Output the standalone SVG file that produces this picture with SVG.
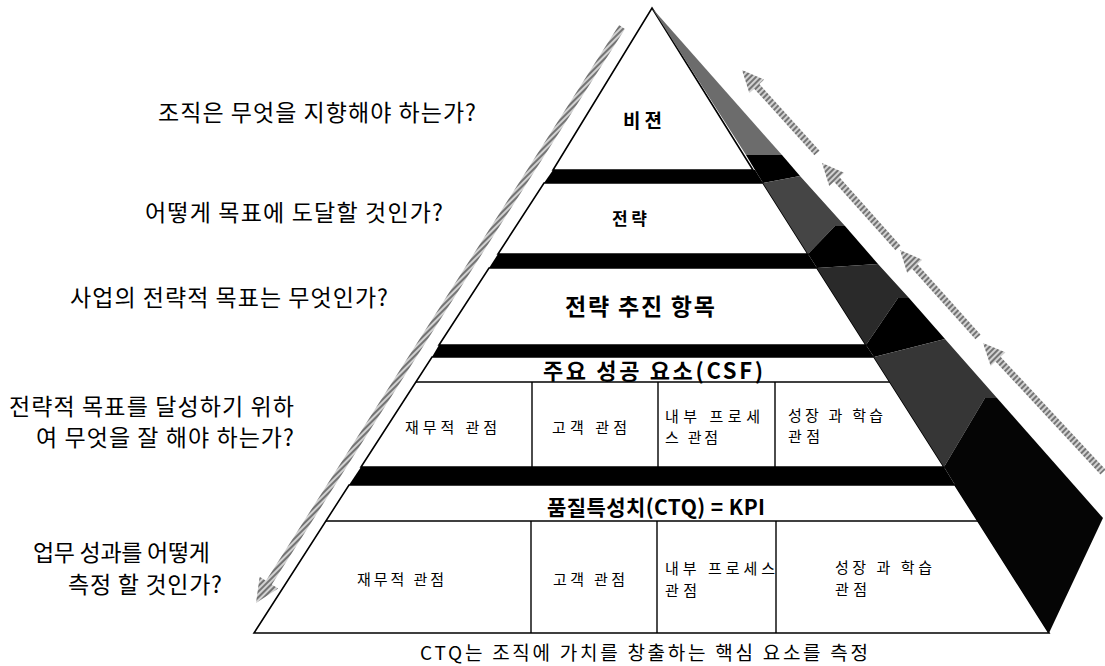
<svg xmlns="http://www.w3.org/2000/svg" width="1105" height="666" viewBox="0 0 1105 666">
<defs>
<style>
text{font-family:"Noto Sans CJK KR","Noto Sans",sans-serif;fill:#000}
.q{font-size:23px}
.c{font-size:15px}
.t{font-weight:bold}
.tier{fill:#fff;stroke:#000;stroke-width:1.6;stroke-linejoin:miter}
.band{fill:#000}
.div{stroke:#000;stroke-width:1.4;fill:none}
.arrow{fill:url(#hatch)}
</style>
<pattern id="hatch" width="4" height="4" patternUnits="userSpaceOnUse" patternTransform="rotate(45)">
<rect width="4" height="4" fill="#d2d2d2"/>
<rect width="2" height="4" fill="#747474"/>
</pattern>
</defs>
<rect width="1105" height="666" fill="#fff"/>

<g id="questions">
<text class="q" x="158" y="121" textLength="318" lengthAdjust="spacing">조직은 무엇을 지향해야 하는가?</text>
<text class="q" x="145" y="221" textLength="298" lengthAdjust="spacing">어떻게 목표에 도달할 것인가?</text>
<text class="q" x="70" y="306" textLength="318" lengthAdjust="spacing">사업의 전략적 목표는 무엇인가?</text>
<text class="q" x="9" y="415" textLength="285" lengthAdjust="spacing">전략적 목표를 달성하기 위하</text>
<text class="q" x="36" y="446" textLength="258" lengthAdjust="spacing">여 무엇을 잘 해야 하는가?</text>
<text class="q" x="33" y="561" textLength="177" lengthAdjust="spacing">업무 성과를 어떻게</text>
<text class="q" x="68" y="593" textLength="154" lengthAdjust="spacing">측정 할 것인가?</text>
</g>

<g id="tier-vision">
<polygon class="tier" points="652,8 753,170 553,170"/>
<text class="t" x="623" y="128" font-size="19" textLength="39" lengthAdjust="spacing">비젼</text>
</g>

<g id="tier-strategy">
<polygon class="tier" points="544,183 763,183 808,254 498,254"/>
<text class="t" x="612" y="225" font-size="17" textLength="35" lengthAdjust="spacing">전략</text>
</g>

<g id="tier-initiatives">
<polygon class="tier" points="489,268 817,268 866,345 439,345"/>
<text class="t" x="565" y="315" font-size="23" textLength="150" lengthAdjust="spacing">전략 추진 항목</text>
</g>

<g id="tier-csf">
<polygon class="tier" points="432,357 874,357 944,467 361,467"/>
<line class="div" x1="416" y1="382" x2="890" y2="382"/>
<line class="div" x1="532" y1="382" x2="532" y2="467"/>
<line class="div" x1="658" y1="382" x2="658" y2="467"/>
<line class="div" x1="775" y1="382" x2="775" y2="467"/>
<text class="t" x="543" y="379" font-size="22" textLength="220" lengthAdjust="spacing">주요 성공 요소(CSF)</text>
<text class="c" x="405" y="433" textLength="92" lengthAdjust="spacing">재무적 관점</text>
<text class="c" x="552" y="433" textLength="75" lengthAdjust="spacing">고객 관점</text>
<text class="c" x="665" y="422" textLength="95" lengthAdjust="spacing">내부 프로세</text>
<text class="c" x="665" y="443" textLength="53" lengthAdjust="spacing">스 관점</text>
<text class="c" x="788" y="421" textLength="95" lengthAdjust="spacing">성장 과 학습</text>
<text class="c" x="788" y="442" textLength="32" lengthAdjust="spacing">관점</text>
</g>

<g id="tier-ctq">
<polygon class="tier" points="349,485 955,485 1049,633 254,633"/>
<line class="div" x1="326" y1="521" x2="978" y2="521"/>
<line class="div" x1="531" y1="521" x2="531" y2="633"/>
<line class="div" x1="657" y1="521" x2="657" y2="633"/>
<line class="div" x1="776" y1="521" x2="776" y2="633"/>
<text class="t" x="547" y="515" font-size="21" textLength="218" lengthAdjust="spacing">품질특성치(CTQ) = KPI</text>
<text class="c" x="357" y="585" textLength="87" lengthAdjust="spacing">재무적 관점</text>
<text class="c" x="553" y="585" textLength="72" lengthAdjust="spacing">고객 관점</text>
<text class="c" x="665" y="574" textLength="110" lengthAdjust="spacing">내부 프로세스</text>
<text class="c" x="665" y="596" textLength="32" lengthAdjust="spacing">관점</text>
<text class="c" x="835" y="573" textLength="97" lengthAdjust="spacing">성장 과 학습</text>
<text class="c" x="835" y="595" textLength="32" lengthAdjust="spacing">관점</text>
</g>

<g id="bands">
<polygon class="band" points="553,170 755,170 763,183 544,183"/>
<polygon class="band" points="498,254 808,254 817,268 489,268"/>
<polygon class="band" points="439,345 866,345 874,357 432,357"/>
<polygon class="band" points="361,467 944,467 955,485 349,485"/>
</g>

<g id="side-face">
<polygon fill="#6c6c6c" points="652,8 782,155 746,155"/>
<polygon fill="#000" points="746,155 782,155 800,176 763,183 755,170"/>
<polygon fill="#454545" points="763,183 800,176 845,226 835,226 808,254"/>
<polygon fill="#000" points="808,254 835,226 845,226 878,264 817,268"/>
<polygon fill="#2a2a2a" points="817,268 878,264 909,298 898,298 866,345"/>
<polygon fill="#000" points="866,345 898,298 909,298 945,339 874,357"/>
<polygon fill="#363636" points="874,357 945,339 997,398 985,398 944,467"/>
<polygon fill="#050505" points="944,467 985,398 997,398 1103,518 1049,633 955,485"/>
</g>

<g id="connectors">
<polygon class="arrow" points="624.95,28.88 271.85,584.58 278.2,588.6 256,603 259.6,576.8 265.95,580.82 619.05,25.12"/>
<polygon class="arrow" points="819.6,150.66 759.34,83.97 764.16,79.62 742,70 749.32,93.02 754.14,88.67 814.4,155.35"/>
<polygon class="arrow" points="900.61,245.67 839.27,177.07 844.12,172.74 822,163 829.21,186.07 834.05,181.73 895.39,250.33"/>
<polygon class="arrow" points="980.61,334.66 917.30,264.04 922.14,259.70 900,250 907.24,273.06 912.08,268.72 975.39,339.34"/>
<polygon class="arrow" points="1105.56,469.62 1000.54,356.73 1005.30,352.30 983,343 990.66,365.92 995.42,361.49 1100.44,474.38"/>
</g>

<g id="caption">
<text x="420" y="660" font-size="19" textLength="448" lengthAdjust="spacing">CTQ는 조직에 가치를 창출하는 핵심 요소를 측정</text>
</g>
</svg>
